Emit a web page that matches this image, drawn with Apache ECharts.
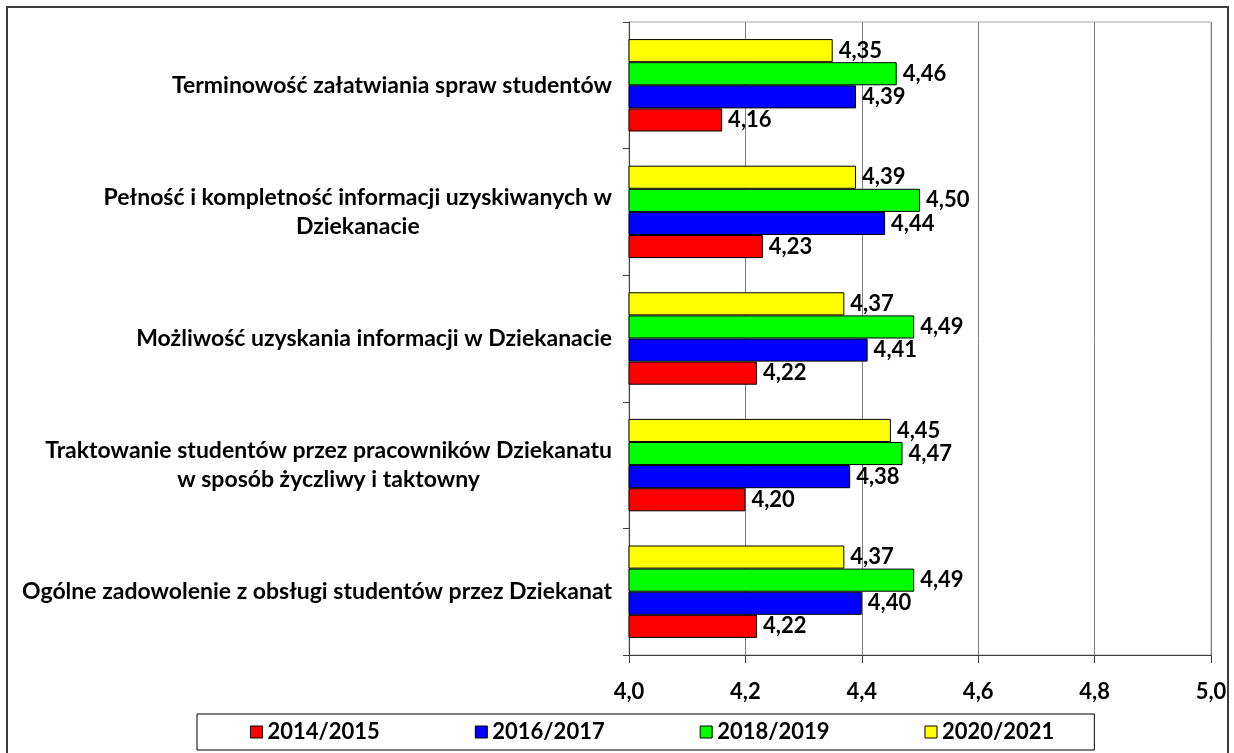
<!DOCTYPE html>
<html>
<head>
<meta charset="utf-8">
<script src="https://cdn.jsdelivr.net/npm/echarts@6/dist/echarts.min.js"></script>
<style>
  html, body { margin: 0; padding: 0; background: #fff; }
  #chart { width: 1234px; height: 753px; }
</style>
</head>
<body>
<div id="chart"></div>
<script>
// kategorie od dołu do góry (oś kategorii rysuje pierwszą na dole)
var categories = [
    'Ogólne zadowolenie z obsługi studentów przez Dziekanat',
    'Traktowanie studentów przez pracowników Dziekanatu\nw sposób życzliwy i taktowny',
    'Możliwość uzyskania informacji w Dziekanacie',
    'Pełność i kompletność informacji uzyskiwanych w\nDziekanacie',
    'Terminowość załatwiania spraw studentów'
];
var years = ['2014/2015', '2016/2017', '2018/2019', '2020/2021'];
var colors = ['#ff0000', '#0000ff', '#00ff00', '#ffff00'];

var v2014 = [4.22, 4.20, 4.22, 4.23, 4.16];
var v2016 = [4.40, 4.38, 4.41, 4.44, 4.39];
var v2018 = [4.49, 4.47, 4.49, 4.50, 4.46];
var v2020 = [4.37, 4.45, 4.37, 4.39, 4.35];
var values = [v2014, v2016, v2018, v2020];

var xTicks = [4.0, 4.2, 4.4, 4.6, 4.8, 5.0];

var FONT = 'Lato';

var myChart = echarts.init(document.getElementById('chart'));

// serie od najnowszej, żeby 2020/2021 było na górze grupy
var series = [];
for (var i = years.length - 1; i >= 0; i--) {
    series.push({
        name: years[i],
        type: 'bar',
        data: values[i],
        barGap: '0%',
        barCategoryGap: '27%',
        itemStyle: {
            color: colors[i],
            borderColor: '#000',
            borderWidth: 1
        },
        label: {
            show: true,
            position: 'right',
            distance: 6,
            color: '#000',
            fontFamily: FONT,
            fontWeight: 'bold',
            fontSize: 22,
            formatter: function (p) {
                return p.value.toFixed(2).replace('.', ',');
            }
        },
        emphasis: { disabled: true }
    });
}

var option = {
    animation: false,
    backgroundColor: '#fff',
    graphic: [{
        type: 'rect',
        shape: { x: 7, y: 7, width: 1221, height: 780 },
        style: { fill: 'none', stroke: '#3a3a3a', lineWidth: 2 },
        silent: true
    }],
    grid: {
        left: 629,
        right: 23,
        top: 22,
        bottom: 98,
        show: true,
        borderColor: '#a6a6a6',
        borderWidth: 1
    },
    legend: {
        data: years,
        left: 197,
        top: 714,
        padding: [7, 40, 7, 53],
        itemGap: 95,
        itemWidth: 12,
        itemHeight: 12,
        icon: 'rect',
        itemStyle: { borderColor: '#000', borderWidth: 1 },
        borderColor: '#000',
        borderWidth: 1,
        textStyle: {
            color: '#000',
            fontFamily: FONT,
            fontWeight: 'bold',
            fontSize: 22
        }
    },
    xAxis: {
        type: 'value',
        min: 4,
        max: 5,
        interval: 0.2,
        axisLine: { show: true, lineStyle: { color: '#404040', width: 1 } },
        axisTick: { show: true, length: 8, lineStyle: { color: '#404040' } },
        splitLine: { show: true, lineStyle: { color: '#808080', width: 1 } },
        axisLabel: {
            margin: 26,
            color: '#000',
            fontFamily: FONT,
            fontWeight: 'bold',
            fontSize: 22,
            formatter: function (v) {
                var t = xTicks.find(function (x) { return Math.abs(x - v) < 1e-6; });
                return t === undefined ? '' : t.toFixed(1).replace('.', ',');
            }
        }
    },
    yAxis: {
        type: 'category',
        data: categories,
        axisLine: { show: true, lineStyle: { color: '#404040', width: 1 } },
        axisTick: { show: true, length: 6, lineStyle: { color: '#404040' } },
        axisLabel: {
            interval: 0,
            margin: 17,
            color: '#000',
            fontFamily: FONT,
            fontWeight: 'bold',
            fontSize: 23,
            formatter: function (v) {
                return v.split('\n').map(function (l) { return '{c|' + l + '}'; }).join('\n');
            },
            rich: {
                c: {
                    align: 'center',
                    color: '#000',
                    fontFamily: FONT,
                    fontWeight: 'bold',
                    fontSize: 23,
                    lineHeight: 29
                }
            }
        }
    },
    series: series
};

myChart.setOption(option);
</script>
</body>
</html>
